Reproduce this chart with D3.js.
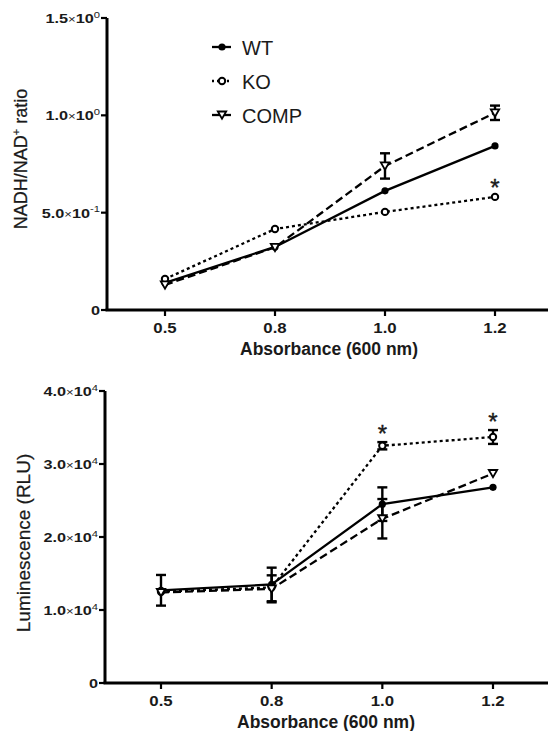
<!DOCTYPE html>
<html><head><meta charset="utf-8">
<script src="https://cdn.jsdelivr.net/npm/d3@7"></script>
<style>body{margin:0;background:#fff}svg{display:block}text{font-family:Arial,"Liberation Sans",sans-serif}</style>
</head><body><svg id="c" width="548" height="731"></svg>
<script>
const categories = ["0.5","0.8","1.0","1.2"];
// Top panel: NADH/NAD+ ratio
const nadWT = [0.139, 0.324, 0.612, 0.843];
const nadKO = [0.159, 0.416, 0.504, 0.581];
const nadCOMP = [0.129, 0.322, 0.740, 1.013];
const nadWTerr = [0, 0, 0, 0];
const nadKOerr = [0, 0, 0, 0];
const nadCOMPerr = [0, 0, 0.065, 0.037];
const nadTicks = [0, 0.5, 1.0, 1.5];
const nadTickLabels = [["0",""],["5.0×10","-1"],["1.0×10","0"],["1.5×10","0"]];
const nadStars = ["1.2"];
// Bottom panel: Luminescence
const lumWT = [12700, 13500, 24500, 26800];
const lumKO = [12500, 13100, 32500, 33700];
const lumCOMP = [12400, 12900, 22500, 28700];
const lumWTerr = [2100, 2300, 2300, 0];
const lumKOerr = [0, 0, 500, 950];
const lumCOMPerr = [0, 1850, 2700, 0];
const lumTicks = [0, 10000, 20000, 30000, 40000];
const lumTickLabels = [["0",""],["1.0×10","4"],["2.0×10","4"],["3.0×10","4"],["4.0×10","4"]];
const lumStars = ["1.0","1.2"];
const seriesNames = ["WT","KO","COMP"];

const svg = d3.select("#c");
const INK = "#1a1a1a";

function marker(g, type, cx, cy){
  if(type==="WT") g.append("circle").attr("cx",cx).attr("cy",cy).attr("r",3.6).attr("fill","#000");
  else if(type==="KO") g.append("circle").attr("cx",cx).attr("cy",cy).attr("r",3.2).attr("fill","#fff").attr("stroke","#000").attr("stroke-width",2);
  else g.append("path").attr("d",`M${cx-4.2},${cy-3.5}L${cx+4.2},${cy-3.5}L${cx},${cy+3.8}Z`).attr("fill","#fff").attr("stroke","#000").attr("stroke-width",1.8);
}
const dashes = {WT:null, KO:"3,3", COMP:"8,4"};

function panel(opt){
  const g = svg.append("g");
  const x = d3.scalePoint().domain(categories).range(opt.xr);
  const y = d3.scaleLinear().domain([opt.ticks[0], opt.ticks[opt.ticks.length-1]]).range(opt.yr);
  // axes
  g.append("line").attr("x1",opt.ax-1.5).attr("x2",548).attr("y1",opt.yr[0]).attr("y2",opt.yr[0]).attr("stroke","#000").attr("stroke-width",3);
  g.append("line").attr("x1",opt.ax).attr("x2",opt.ax).attr("y1",opt.yr[0]).attr("y2",opt.yr[1]).attr("stroke","#000").attr("stroke-width",3);
  categories.forEach(c=>{
    g.append("line").attr("x1",x(c)).attr("x2",x(c)).attr("y1",opt.yr[0]).attr("y2",opt.yr[0]+6).attr("stroke","#000").attr("stroke-width",2.2);
    g.append("text").attr("transform",`translate(${x(c)},${opt.yr[0]+23})scale(1.12,1)`).attr("text-anchor","middle").attr("font-size",15).attr("font-weight","bold").attr("fill",INK).text(c);
  });
  opt.ticks.forEach((t,i)=>{
    g.append("line").attr("x1",opt.ax-6).attr("x2",opt.ax).attr("y1",y(t)).attr("y2",y(t)).attr("stroke","#000").attr("stroke-width",2.2);
    const tx = g.append("text").attr("transform",`translate(${opt.ax-7},${y(t)+5})scale(1.25,1)`).attr("text-anchor","end").attr("font-size",13).attr("font-weight","bold").attr("fill",INK);
    const lab = opt.labels[i];
    if(lab[1]){
      const parts = lab[0].split("×");
      tx.append("tspan").text(parts[0]);
      tx.append("tspan").attr("font-weight","normal").attr("font-size",10.5).text("×");
      tx.append("tspan").text(parts[1]);
      tx.append("tspan").attr("dy",-5.5).attr("font-size",9).attr("font-weight","normal").text(lab[1]);
    } else tx.text(lab[0]);
  });
  // axis titles
  g.append("text").attr("x",opt.xtc).attr("y",opt.yr[0]+45).attr("text-anchor","middle").attr("font-size",17.5).attr("font-weight","bold").attr("fill",INK).text("Absorbance (600 nm)");
  const yt = g.append("text").attr("transform",`translate(${opt.ytx},${opt.ytc})rotate(-90)`).attr("text-anchor","middle").attr("font-size",opt.ytfs).attr("fill",INK).attr("stroke",INK).attr("stroke-width",0.25);
  opt.ytitle(yt);
  // series
  const line = d3.line().x((d,i)=>x(categories[i])).y(d=>y(d));
  opt.series.forEach(s=>{
    g.append("path").attr("d",line(s.v)).attr("fill","none").attr("stroke","#000").attr("stroke-width",2.3).attr("stroke-dasharray",dashes[s.name]);
  });
  opt.series.forEach(s=>{
    s.v.forEach((v,i)=>{
      const e = s.e[i]; if(!e) return;
      const cx = x(categories[i]);
      g.append("line").attr("x1",cx).attr("x2",cx).attr("y1",y(v-e)).attr("y2",y(v+e)).attr("stroke","#000").attr("stroke-width",2.4);
      [v-e,v+e].forEach(w=>g.append("line").attr("x1",cx-5).attr("x2",cx+5).attr("y1",y(w)).attr("y2",y(w)).attr("stroke","#000").attr("stroke-width",2.4));
    });
  });
  opt.series.forEach(s=>{ s.v.forEach((v,i)=>marker(g,s.name,x(categories[i]),y(v))); });
  opt.stars.forEach(st=>{
    const ko = opt.series[1]; const i = categories.indexOf(st);
    const top = y(ko.v[i]+ko.e[i]);
    g.append("text").attr("x",x(st)).attr("y",top-14+13.5).attr("text-anchor","middle").attr("font-size",24).attr("fill",INK).attr("stroke",INK).attr("stroke-width",0.4).text("*");
  });
  return {x,y,g};
}

panel({xr:[165,495], yr:[310,18], ax:107, xtc:329, ytx:27, ytc:159, ytfs:18, ticks:nadTicks, labels:nadTickLabels, stars:nadStars,
  series:[{name:"WT",v:nadWT,e:nadWTerr},{name:"KO",v:nadKO,e:nadKOerr},{name:"COMP",v:nadCOMP,e:nadCOMPerr}],
  ytitle:t=>{t.append("tspan").text("NADH/NAD");t.append("tspan").attr("dy",-7).attr("font-size",11).text("+");t.append("tspan").attr("dy",7).text(" ratio");}});

panel({xr:[161,493], yr:[683,391], ax:105, xtc:326, ytx:30, ytc:543, ytfs:19, ticks:lumTicks, labels:lumTickLabels, stars:lumStars,
  series:[{name:"WT",v:lumWT,e:lumWTerr},{name:"KO",v:lumKO,e:lumKOerr},{name:"COMP",v:lumCOMP,e:lumCOMPerr}],
  ytitle:t=>t.text("Luminescence (RLU)")});

// legend
const lg = svg.append("g");
seriesNames.forEach((n,i)=>{
  const yy = 47 + i*34;
  lg.append("line").attr("x1",212).attr("x2",231).attr("y1",yy).attr("y2",yy).attr("stroke","#000").attr("stroke-width",2.3).attr("stroke-dasharray",n==="KO"?"2,3":null);
  marker(lg,n,222,yy);
  lg.append("text").attr("x",242).attr("y",yy+7.5).attr("font-size",20).attr("fill",INK).text(n);
});
</script></body></html>
